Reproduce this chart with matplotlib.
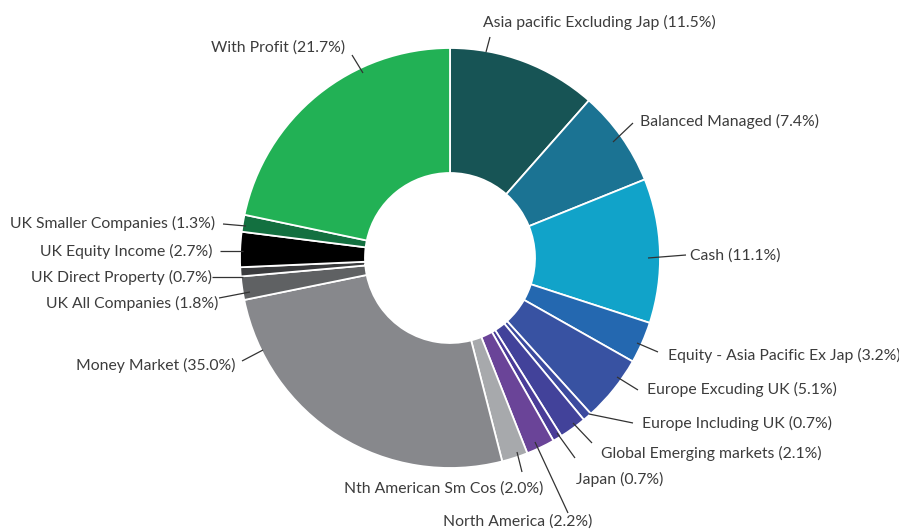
import numpy as np
import matplotlib
matplotlib.use("Agg")
import matplotlib.pyplot as plt

categories = ["Asia pacific Excluding Jap", "Balanced Managed", "Cash",
              "Equity - Asia Pacific Ex Jap", "Europe Excuding UK", "Europe Including UK",
              "Global Emerging markets", "Japan", "North America", "Nth American Sm Cos",
              "Money Market", "UK All Companies", "UK Direct Property", "UK Equity Income",
              "UK Smaller Companies", "With Profit"]
# printed percentages in the labels
label_pcts = [11.5, 7.4, 11.1, 3.2, 5.1, 0.7, 2.1, 0.7, 2.2, 2.0, 35.0, 1.8, 0.7, 2.7, 1.3, 21.7]
# slice sizes as drawn (Money Market slice is drawn smaller than its label says)
values = [11.5, 7.4, 11.1, 3.2, 5.1, 0.7, 2.1, 0.7, 2.2, 2.0, 25.8, 1.8, 0.7, 2.7, 1.3, 21.7]
colors = ["#175455", "#1b7393", "#11a3c9", "#2468b0", "#3852a2", "#3c4a9e",
          "#42429a", "#4a3c98", "#6a4498", "#a7a9ac", "#87888c", "#5f6163",
          "#3a3b3d", "#000000", "#137040", "#22b155"]

# label layout (pixel coords, y from top): text baseline anchor, alignment, leader start/end
text_pos = [(483, 27), (640, 126), (690, 260), (668, 360), (647, 394), (642, 428),
            (601, 458), (576, 484), (443, 526), (543, 493), (235, 370), (218, 308),
            (212, 282), (212, 256), (215, 228), (345, 52)]
aligns = ["left"] * 9 + ["right"] * 7
line_start = [(486, 52), (613, 142), (648, 258), (637, 343), (617, 377), (589, 414),
              (573, 423), (557, 433), (535, 442), (517, 452), (263, 350), (250, 292),
              (243, 277), (243, 251), (246, 226), (363, 73)]
line_end = [(490, 37), (633, 123), (686, 255), (658, 352), (638, 390), (633, 423),
            (592, 443), (575, 458), (568, 513), (522, 472), (242, 361), (219, 298),
            (212, 277), (220, 251), (223, 224), (352, 55)]

W, H = 899, 529
fig = plt.figure(figsize=(W / 100, H / 100), dpi=100)
ax = fig.add_axes([0, 0, 1, 1])
cx, cy, R = 450, H - 258, 210
wedges, _ = ax.pie(values, startangle=90, counterclock=False, radius=R,
                   center=(cx, cy), colors=colors,
                   wedgeprops=dict(width=125, edgecolor="white", linewidth=1.3))
ax.set_xlim(0, W)
ax.set_ylim(0, H)
ax.set_aspect("equal")
ax.axis("off")

for i, (cat, pct) in enumerate(zip(categories, label_pcts)):
    sx, sy = line_start[i]
    ex, ey = line_end[i]
    ax.plot([sx, ex], [H - sy, H - ey], color="#333333", lw=0.9, solid_capstyle="butt")
    tx, ty = text_pos[i]
    ax.text(tx, H - ty, f"{cat} ({pct:.1f}%)", ha=aligns[i], va="baseline",
            fontsize=11.3, family=["Lato", "DejaVu Sans"], color="#3c3c3c")

fig.savefig("out.png", dpi=100)
